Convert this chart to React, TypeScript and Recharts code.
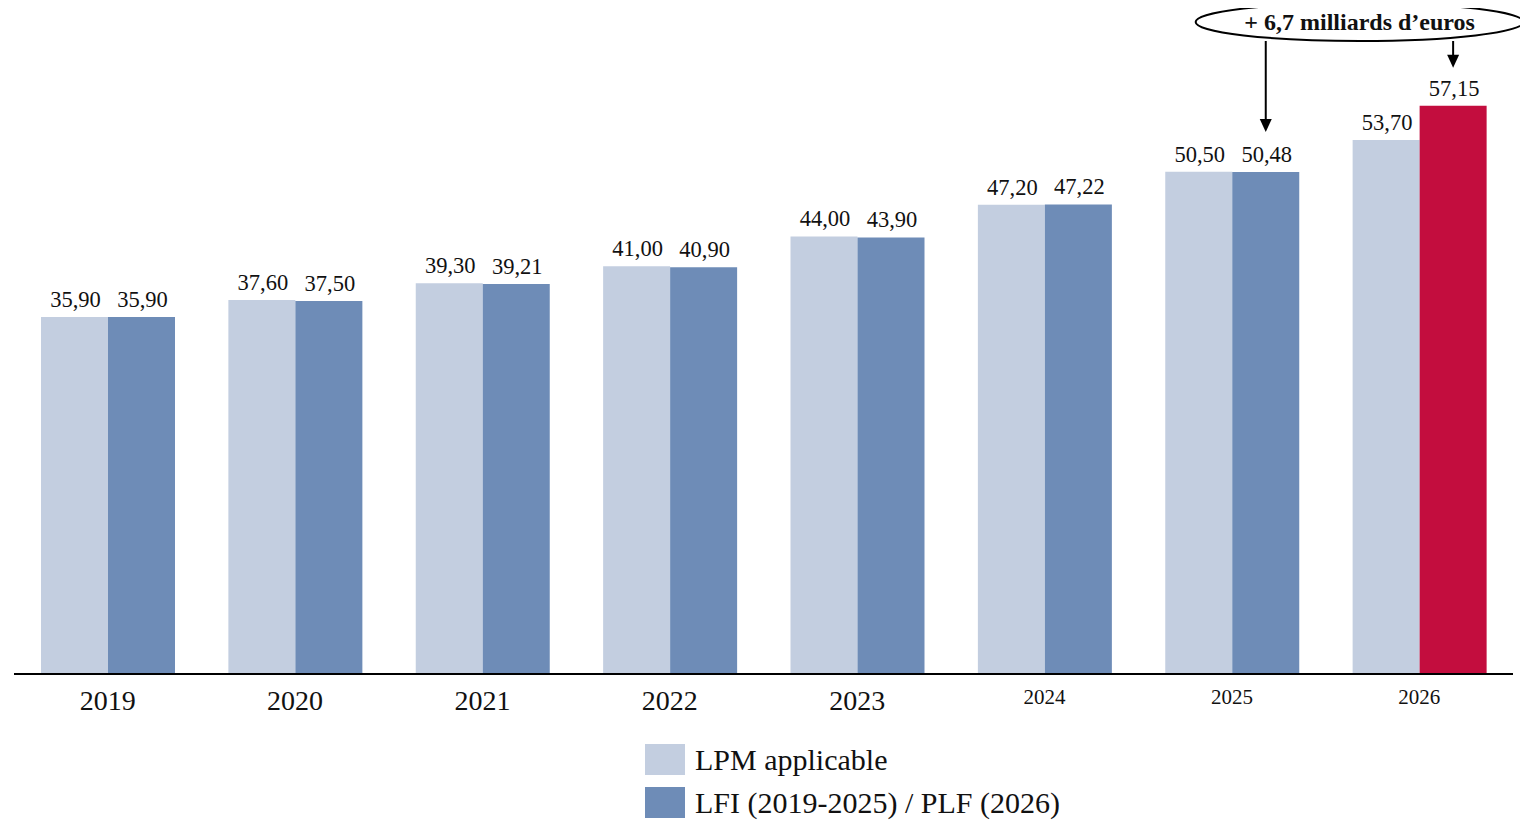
import { Bar, BarChart, Cell, LabelList, XAxis, YAxis } from "recharts";

const years = ["2019", "2020", "2021", "2022", "2023", "2024", "2025", "2026"];
const lpm = [35.9, 37.6, 39.3, 41.0, 44.0, 47.2, 50.5, 53.7];
const lfi = [35.9, 37.5, 39.21, 40.9, 43.9, 47.22, 50.48, 57.15];
const smallYears = ["2024", "2025", "2026"];
const seriesNames = ["LPM applicable", "LFI (2019-2025) / PLF (2026)"];
const annotation = "+ 6,7 milliards d\u2019euros";
const yMax = 65.57;

const LIGHT = "#c3cee0";
const BLUE = "#6e8cb7";
const RED = "#c30d3e";
const FONT = "'Liberation Serif', 'DejaVu Serif', serif";

const data = years.map((year, i) => ({ year, lpm: lpm[i], lfi: lfi[i] }));

const fmt = (v: number) => v.toFixed(2).replace(".", ",");

function YearTick({ x, y, payload }: any) {
  const small = smallYears.includes(payload.value);
  return (
    <text
      x={x}
      y={y + (small ? 22 : 28)}
      textAnchor="middle"
      fontFamily={FONT}
      fontSize={small ? 21 : 28}
      fill="#111"
    >
      {payload.value}
    </text>
  );
}

function ValueLabel({ x, y, width, value }: any) {
  return (
    <text x={x + width / 2 + 1} y={y - 10} textAnchor="middle" fontFamily={FONT} fontSize={22.5} fill="#111">
      {fmt(Number(value))}
    </text>
  );
}

function Arrow({ cx, y1, y2 }: { cx: number; y1: number; y2: number }) {
  return (
    <g>
      <line x1={cx} y1={y1} x2={cx} y2={y2 - 12} stroke="#000" strokeWidth={2} />
      <polygon points={`${cx - 6},${y2 - 13} ${cx + 6},${y2 - 13} ${cx},${y2}`} fill="#000" />
    </g>
  );
}

function LfiLabel(props: any) {
  const { x, y, width, height, value, index } = props;
  const cx = x + width / 2;
  const label = <ValueLabel {...props} />;
  if (index === 6) {
    const scale = height / Number(value);
    const plotTop = y + height - yMax * scale;
    return (
      <g>
        {label}
        <Arrow cx={cx} y1={plotTop + 19} y2={y - 40} />
      </g>
    );
  }
  if (index === 7) {
    const scale = height / Number(value);
    const plotTop = y + height - yMax * scale;
    const ecx = x - 60;
    return (
      <g>
        {label}
        <Arrow cx={cx} y1={plotTop + 19} y2={y - 38} />
        <ellipse cx={ecx} cy={plotTop} rx={164} ry={19} fill="#fff" stroke="#000" strokeWidth={2} />
        <text x={ecx} y={plotTop + 8} textAnchor="middle" fontFamily={FONT} fontWeight="bold" fontSize={24} fill="#111">
          {annotation}
        </text>
      </g>
    );
  }
  return label;
}

export default function App() {
  return (
    <div style={{ position: "relative", width: 1520, height: 823, fontFamily: FONT }}>
      <BarChart
        width={1520}
        height={720}
        data={data}
        margin={{ top: 14, right: 15, bottom: 0, left: 6 }}
        barGap={0}
        barSize={67}
      >
        <YAxis hide domain={[0, yMax]} />
        <XAxis
          dataKey="year"
          height={54}
          axisLine={{ stroke: "#000", strokeWidth: 2 }}
          tickLine={false}
          tick={<YearTick />}
          interval={0}
        />
        <Bar dataKey="lpm" fill={LIGHT} isAnimationActive={false}>
          <LabelList dataKey="lpm" content={<ValueLabel />} />
        </Bar>
        <Bar dataKey="lfi" fill={BLUE} isAnimationActive={false}>
          {data.map((d, i) => (
            <Cell key={d.year} fill={i === data.length - 1 ? RED : BLUE} />
          ))}
          <LabelList dataKey="lfi" content={<LfiLabel />} />
        </Bar>
      </BarChart>
      {seriesNames.map((name, i) => (
        <div
          key={name}
          style={{
            position: "absolute",
            left: 637,
            top: 736 + i * 43,
            height: 31,
            display: "flex",
            alignItems: "center",
            fontSize: 30,
            color: "#111",
            whiteSpace: "nowrap",
          }}
        >
          <span style={{ width: 40, height: 31, background: i === 0 ? LIGHT : BLUE, marginRight: 10 }} />
          <span style={{ lineHeight: "31px" }}>{name}</span>
        </div>
      ))}
    </div>
  );
}
